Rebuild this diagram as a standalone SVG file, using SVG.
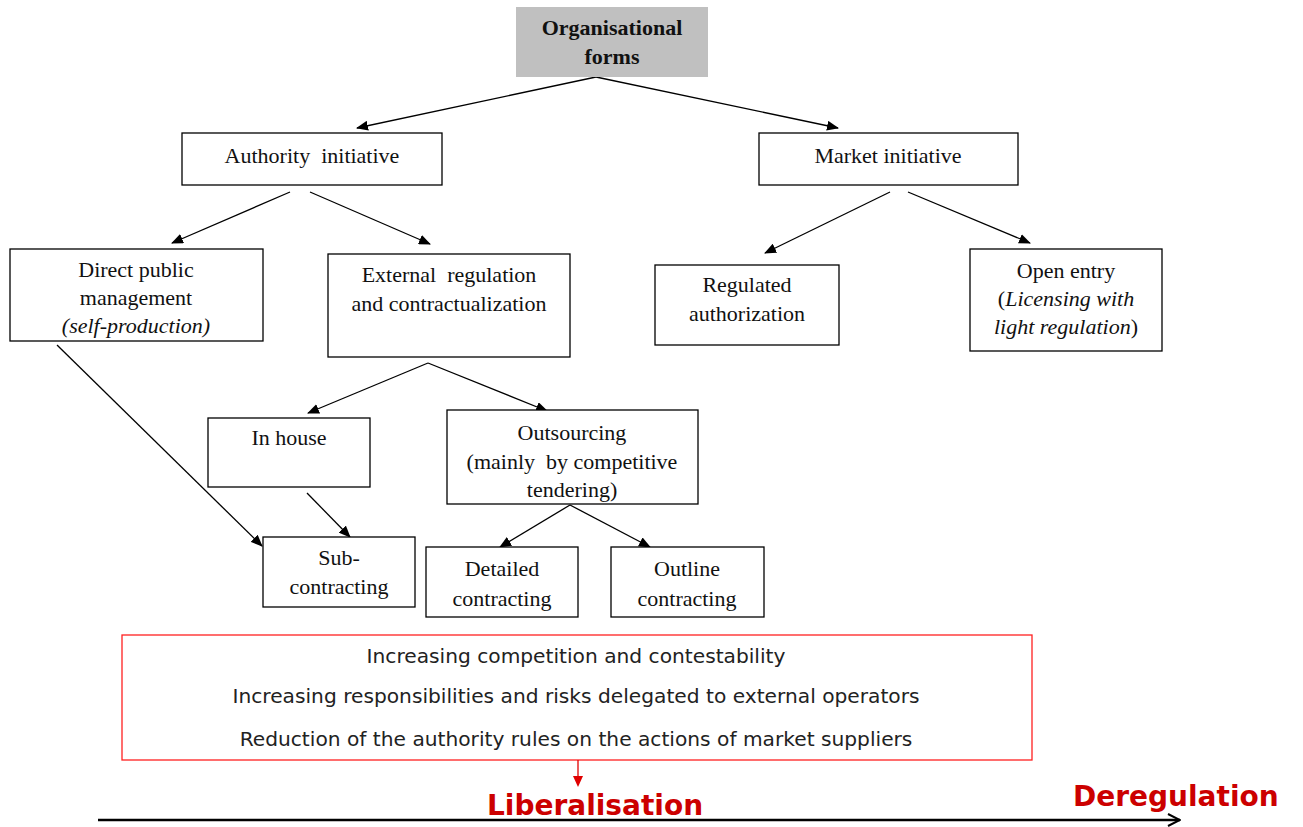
<svg xmlns="http://www.w3.org/2000/svg" width="1303" height="827" viewBox="0 0 1303 827">
<defs>
<style>
.box{fill:#fff;stroke:#000;stroke-width:1.3}
.t{font-family:"Liberation Serif","Times New Roman",serif;font-size:22px;fill:#111;text-anchor:middle}
.c{stroke:#000;stroke-width:1.3;fill:none;marker-end:url(#ah)}
.s{font-family:"DejaVu Sans","Liberation Sans",sans-serif;font-size:20.2px;fill:#222;text-anchor:middle}
.r{font-family:"DejaVu Sans","Liberation Sans",sans-serif;font-weight:bold;font-size:28px;fill:#cc0000}
</style>
<marker id="ah" markerWidth="12" markerHeight="10" refX="11" refY="5" orient="auto" markerUnits="userSpaceOnUse">
<path d="M0,0 L12,5 L0,10 z" fill="#000"/>
</marker>
<marker id="oh" markerWidth="14" markerHeight="14" refX="13" refY="7" orient="auto" markerUnits="userSpaceOnUse">
<path d="M1,1 L13,7 L1,13" fill="none" stroke="#000" stroke-width="2"/>
</marker>
</defs>
<rect width="1303" height="827" fill="#fff"/>
<g id="connectors">
<path class="c" d="M596,77 L357,128"/>
<path class="c" d="M596,77 L838,128"/>
<path class="c" d="M290,192 L172,243"/>
<path class="c" d="M310,192 L430,244"/>
<path class="c" d="M890,192 L765,253"/>
<path class="c" d="M908,192 L1030,243"/>
<path class="c" d="M428,363 L308,413"/>
<path class="c" d="M428,363 L547,411"/>
<path class="c" d="M57,345 L262,546"/>
<path class="c" d="M307,493 L350,537"/>
<path class="c" d="M570,505 L500,547"/>
<path class="c" d="M570,505 L650,547"/>
</g>
<g id="org">
<rect x="516" y="7" width="192" height="70" fill="#c0c0c0"/>
<text class="t" x="612" y="35" font-weight="bold">Organisational</text>
<text class="t" x="612" y="64" font-weight="bold">forms</text>
</g>
<g id="authority">
<rect class="box" x="182" y="133" width="260" height="52"/>
<text class="t" x="312" y="163" xml:space="preserve">Authority  initiative</text>
</g>
<g id="market">
<rect class="box" x="759" y="133" width="259" height="52"/>
<text class="t" x="888" y="163">Market initiative</text>
</g>
<g id="direct">
<rect class="box" x="10" y="249" width="253" height="92"/>
<text class="t" x="136" y="277">Direct public</text>
<text class="t" x="136" y="305">management</text>
<text class="t" x="136" y="333" font-style="italic">(self-production)</text>
</g>
<g id="external">
<rect class="box" x="328" y="254" width="242" height="103"/>
<text class="t" x="449" y="282" xml:space="preserve">External  regulation</text>
<text class="t" x="449" y="311">and contractualization</text>
</g>
<g id="regulated">
<rect class="box" x="655" y="265" width="184" height="80"/>
<text class="t" x="747" y="292">Regulated</text>
<text class="t" x="747" y="321">authorization</text>
</g>
<g id="open">
<rect class="box" x="970" y="249" width="192" height="102"/>
<text class="t" x="1066" y="278">Open entry</text>
<text class="t" x="1066" y="306">(<tspan font-style="italic">Licensing with</tspan></text>
<text class="t" x="1066" y="334"><tspan font-style="italic">light regulation</tspan>)</text>
</g>
<g id="inhouse">
<rect class="box" x="208" y="418" width="162" height="69"/>
<text class="t" x="289" y="445">In house</text>
</g>
<g id="outsourcing">
<rect class="box" x="447" y="410" width="251" height="94"/>
<text class="t" x="572" y="440">Outsourcing</text>
<text class="t" x="572" y="469" xml:space="preserve">(mainly  by competitive</text>
<text class="t" x="572" y="497">tendering)</text>
</g>
<g id="subcontracting">
<rect class="box" x="263" y="537" width="152" height="70"/>
<text class="t" x="339" y="565">Sub-</text>
<text class="t" x="339" y="594">contracting</text>
</g>
<g id="detailed">
<rect class="box" x="426" y="547" width="152" height="70"/>
<text class="t" x="502" y="576">Detailed</text>
<text class="t" x="502" y="606">contracting</text>
</g>
<g id="outline">
<rect class="box" x="611" y="547" width="153" height="70"/>
<text class="t" x="687" y="576">Outline</text>
<text class="t" x="687" y="606">contracting</text>
</g>
<g id="summary">
<rect x="122" y="635" width="910" height="125" fill="none" stroke="#ff2020" stroke-width="1.3"/>
<text class="s" x="576" y="663">Increasing competition and contestability</text>
<text class="s" x="576" y="703">Increasing responsibilities and risks delegated to external operators</text>
<text class="s" x="576" y="746">Reduction of the authority rules on the actions of market suppliers</text>
</g>
<g id="axis">
<path d="M578,760 L578,777" stroke="#e00000" stroke-width="1.3"/>
<path d="M573,776 L583,776 L578,787 z" fill="#e00000"/>
<path d="M98,820 L1180,820" stroke="#000" stroke-width="2.5" marker-end="url(#oh)"/>
<text class="r" x="487" y="815">Liberalisation</text>
<text class="r" x="1073" y="806" font-size="29">Deregulation</text>
</g>
</svg>
